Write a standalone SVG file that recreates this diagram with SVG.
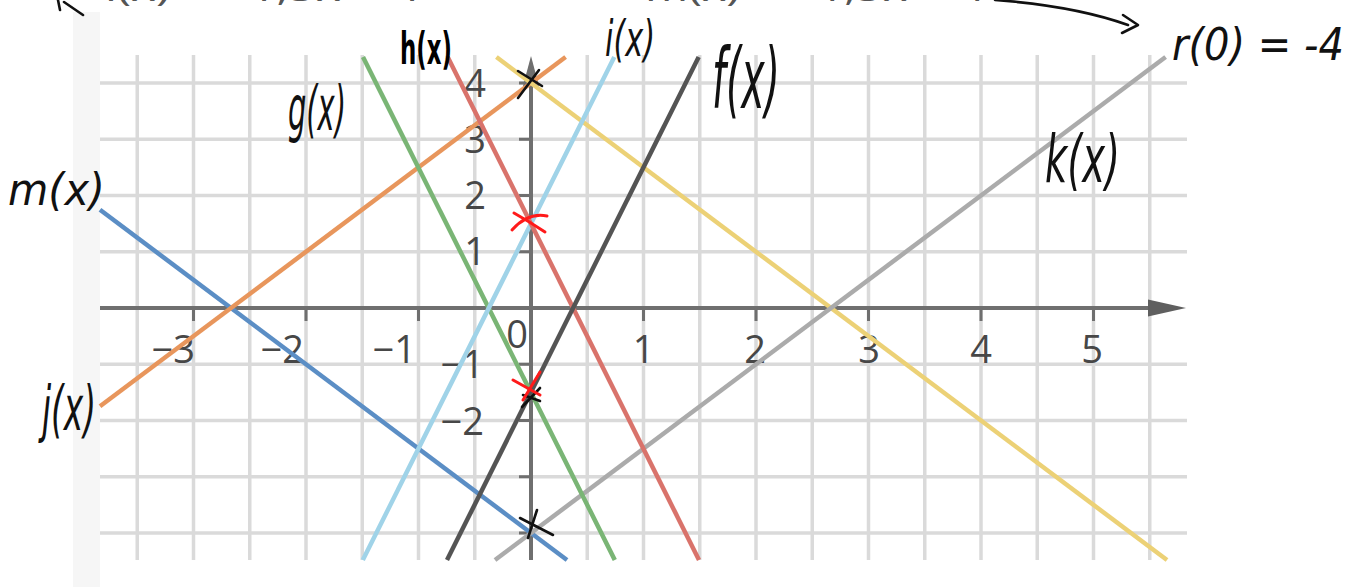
<svg xmlns="http://www.w3.org/2000/svg" width="1369" height="587" viewBox="0 0 1369 587">
<style>
.grid{stroke:#dadada;stroke-width:3.5;fill:none}
.axis{stroke:#6f6f6f;stroke-width:4;fill:none}
.tick{stroke:#6f6f6f;stroke-width:3;fill:none}
.lbl{font-family:"Open Sans","Liberation Sans",sans-serif;font-size:38px;fill:#474747}
.fn{stroke-width:4.5;fill:none;stroke-linecap:butt}
.hw{font-family:"DejaVu Sans","Liberation Sans",sans-serif;font-style:italic;font-weight:200;fill:#111}
.hwb{font-family:"DejaVu Sans","Liberation Sans",sans-serif;font-weight:bold;fill:#000}
.ink{stroke:#111;stroke-width:2.6;fill:none;stroke-linecap:round;stroke-linejoin:round}
.red{stroke:#ff1a1a;stroke-width:3;fill:none;stroke-linecap:round}
.top{font-family:"Open Sans","Liberation Sans",sans-serif;font-size:32px;fill:#555}
</style>
<rect x="0" y="0" width="1369" height="587" fill="#ffffff"/>
<rect x="73" y="12" width="27" height="575" fill="#f6f6f6"/>

<g id="top-text">
<text class="top" x="105" y="1" textLength="315" lengthAdjust="spacingAndGlyphs">l(x) = −1,5x + 4</text>
<text class="top" x="645" y="1" textLength="340" lengthAdjust="spacingAndGlyphs">m(x) = −1,5x − 4</text>
<path class="ink" d="M58,0 L60,10 M64,2 L83,15"/>
</g>

<g id="grid">
<path class="grid" d="M137.25,55V560M193.5,55V560M249.75,55V560M306,55V560M362.25,55V560M418.5,55V560M474.75,55V560M587.25,55V560M643.5,55V560M699.75,55V560M756,55V560M812.25,55V560M868.5,55V560M924.75,55V560M981,55V560M1037.25,55V560M1093.5,55V560M1149.75,55V560"/>
<path class="grid" d="M100,83H1187M100,139.25H1187M100,195.5H1187M100,251.75H1187M100,364.25H1187M100,420.5H1187M100,476.75H1187M100,533H1187"/>
</g>

<g id="axes">
<path class="axis" d="M100,308H1150"/>
<polygon points="1148,299.5 1186,308 1148,316.5" fill="#5f5f5f"/>
<path class="axis" d="M531,80V560"/>
<polygon points="523,86 531,56 539,86" fill="#6f6f6f"/>
<path class="tick" d="M193.5,308V321M306,308V321M418.5,308V321M643.5,308V321M756,308V321M868.5,308V321M981,308V321M1093.5,308V321"/>
<path class="tick" d="M519,83H531M519,139.25H531M519,195.5H531M519,251.75H531M519,364.25H531M519,420.5H531M519,476.75H531M519,533H531"/>
</g>

<g id="axis-labels">
<text class="lbl" x="195" y="363" text-anchor="end">−3</text>
<text class="lbl" x="304" y="363" text-anchor="end">−2</text>
<text class="lbl" x="416" y="363" text-anchor="end">−1</text>
<text class="lbl" x="643.5" y="363" text-anchor="middle">1</text>
<text class="lbl" x="755" y="363" text-anchor="middle">2</text>
<text class="lbl" x="869" y="363" text-anchor="middle">3</text>
<text class="lbl" x="981" y="363" text-anchor="middle">4</text>
<text class="lbl" x="1092" y="363" text-anchor="middle">5</text>
<text class="lbl" x="517" y="348" text-anchor="middle">0</text>
<text class="lbl" x="486" y="97" text-anchor="end">4</text>
<text class="lbl" x="486" y="153" text-anchor="end">3</text>
<text class="lbl" x="486" y="209" text-anchor="end">2</text>
<text class="lbl" x="486" y="265" text-anchor="end">1</text>
<text class="lbl" x="484" y="378" text-anchor="end">−1</text>
<text class="lbl" x="484" y="435" text-anchor="end">−2</text>
</g>

<g id="functions">
<line id="m" class="fn" x1="100" y1="209.75" x2="567" y2="560" stroke="#5b8ec5"/>
<line id="j" class="fn" x1="100" y1="406.25" x2="565.6" y2="57" stroke="#e8965c"/>
<line id="l" class="fn" x1="496.4" y1="57" x2="1167" y2="560" stroke="#ecd176"/>
<line id="k" class="fn" x1="495" y1="560" x2="1165.6" y2="57" stroke="#ababab"/>
<line id="g" class="fn" x1="363" y1="57" x2="614.8" y2="560" stroke="#7ab575"/>
<line id="i" class="fn" x1="362.8" y1="560" x2="614.3" y2="57" stroke="#a0d3e8"/>
<line id="h" class="fn" x1="447.7" y1="57" x2="699" y2="560" stroke="#d9736b"/>
<line id="f" class="fn" x1="447" y1="560" x2="698.7" y2="57" stroke="#545454"/>
</g>

<g id="marks">
<path class="ink" d="M518,71 L542,86 M539,70 L518,98"/>
<path class="ink" d="M520,518 L553,535 M537,510 L528,538"/>
<path class="ink" d="M522,407 L540,388 M523,395 L540,401"/>
<path class="red" d="M514,213 Q530,222 545,232 M512,230 Q528,212 547,216"/>
<path class="red" d="M513,380 L540,395 M540,372 L523,400"/>
</g>

<g id="labels">
<text class="hw" x="8" y="205" font-size="44" textLength="97" lengthAdjust="spacingAndGlyphs">m(x)</text>
<text class="hw" x="42" y="430" font-size="62" textLength="54" lengthAdjust="spacingAndGlyphs">j(x)</text>
<text class="hw" x="288" y="130" font-size="62" textLength="58" lengthAdjust="spacingAndGlyphs">g(x)</text>
<text class="hwb" x="400" y="64" font-size="44" textLength="52" lengthAdjust="spacingAndGlyphs">h(x)</text>
<text class="hw" x="605" y="56" font-size="50" textLength="50" lengthAdjust="spacingAndGlyphs">i(x)</text>
<text class="hw" x="712" y="108" font-size="84" textLength="68" lengthAdjust="spacingAndGlyphs">f(x)</text>
<text class="hw" x="1045" y="182" font-size="66" textLength="75" lengthAdjust="spacingAndGlyphs">k(x)</text>
<text class="hw" x="1172" y="60" font-size="44" textLength="172" lengthAdjust="spacingAndGlyphs">r(0) = -4</text>
</g>

<g id="connectors">
<path class="ink" d="M995,0 Q1075,6 1128,25"/>
<path class="ink" d="M1123,15 L1138,25 L1122,33"/>
</g>
</svg>
